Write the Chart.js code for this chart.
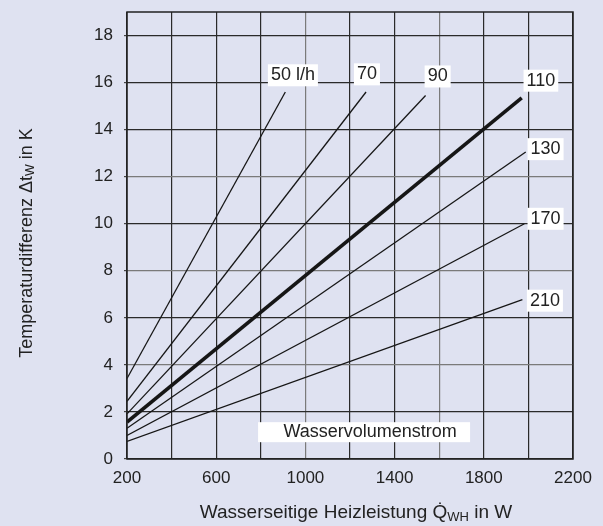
<!DOCTYPE html>
<html>
<head>
<meta charset="utf-8">
<script src="https://cdn.jsdelivr.net/npm/chart.js@4"></script>
<style>
  body { margin: 0; background: #dfe2f1; }
  #graph { display: block; }
</style>
</head>
<body>
<canvas id="graph" width="603" height="526"></canvas>
<script>
// Wasservolumenstrom curves (start at 200 W, end point per line)
const flows = ['50 l/h', '70', '90', '110', '130', '170', '210'];
const startW = [200, 200, 200, 200, 200, 200, 200];
const startK = [3.42, 2.45, 1.92, 1.57, 1.31, 1.0, 0.75];
const endW = [910, 1272, 1539, 1970, 1988, 1982, 1973];
const endK = [15.6, 15.6, 15.45, 15.35, 13.05, 10.0, 6.77];
// where the flow labels sit (W, K)
const labelW = [944, 1276, 1593, 2056, 2077, 2077, 2074];
const labelK = [16.31, 16.35, 16.26, 16.08, 13.17, 10.21, 6.73];
const xTicks = [200, 600, 1000, 1400, 1800, 2200];

const FONT = "'Liberation Sans', Arial, sans-serif";
const greyX = [1000, 1600];
const greyY = [4, 8, 12];

function gridColor(grey) {
    return function(ctx) {
        if (!ctx.tick) return '#2a2a2a';
        return grey.indexOf(ctx.tick.value) >= 0 ? '#7a7a7a' : '#2a2a2a';
    };
}

// text with subscripts, parts = [[text, isSub], ...]
function drawParts(c, parts, x, y, size, subSize) {
    let total = 0;
    parts.forEach(p => {
        c.font = (p[1] ? subSize : size) + 'px ' + FONT;
        total += c.measureText(p[0]).width;
    });
    let cx = x - total / 2;
    parts.forEach(p => {
        c.font = (p[1] ? subSize : size) + 'px ' + FONT;
        c.fillText(p[0], cx, p[1] ? y + 4 : y);
        cx += c.measureText(p[0]).width;
    });
}

const extras = {
    id: 'extras',
    afterDatasetsDraw(chart) {
        const c = chart.ctx;
        const xs = chart.scales.x, ys = chart.scales.y;
        const a = chart.chartArea;
        c.save();
        c.textAlign = 'center';
        c.textBaseline = 'middle';
        c.font = '18px ' + FONT;
        for (let i = 0; i < flows.length; i++) {
            const px = xs.getPixelForValue(labelW[i]);
            const py = ys.getPixelForValue(labelK[i]);
            const w = c.measureText(flows[i]).width;
            c.fillStyle = '#fff';
            c.fillRect(px - w / 2 - 3, py - 11, w + 6, 22);
            c.fillStyle = '#222';
            c.fillText(flows[i], px, py);
        }
        // Wasservolumenstrom box
        const wx = xs.getPixelForValue(1290), wy = ys.getPixelForValue(1.14);
        c.fillStyle = '#fff';
        c.fillRect(wx - 112, wy - 10, 212, 20);
        c.fillStyle = '#222';
        c.fillText('Wasservolumenstrom', wx, wy);

        // frame
        c.strokeStyle = '#222';
        c.lineWidth = 1.5;
        c.strokeRect(a.left, a.top, a.right - a.left, a.bottom - a.top);
        c.restore();
    },
    afterDraw(chart) {
        const c = chart.ctx;
        c.save();
        c.fillStyle = '#222';
        c.textAlign = 'left';
        c.textBaseline = 'middle';
        drawParts(c, [['Wasserseitige Heizleistung Q\u0307', false], ['WH', true], [' in W', false]], 356, 513, 19, 13);
        c.translate(27, 243);
        c.rotate(-Math.PI / 2);
        drawParts(c, [['Temperaturdifferenz \u0394t', false], ['W', true], [' in K', false]], 0, 0, 18, 12.5);
        c.restore();
    }
};

window.onload = function() {
    let datasets = flows.map((f, i) => ({
        label: f,
        data: [{x: startW[i], y: startK[i]}, {x: endW[i], y: endK[i]}],
        borderColor: '#161616',
        borderWidth: f === '110' ? 3.6 : 1.3,
        pointRadius: 0,
        tension: 0
    }));

    new Chart(document.getElementById('graph'), {
        type: 'line',
        data: { datasets: datasets },
        plugins: [extras],
        options: {
            responsive: false,
            animation: false,
            devicePixelRatio: 1,
            layout: { padding: { top: 12, right: 30, left: 0, bottom: 0 } },
            plugins: { legend: { display: false }, tooltip: { enabled: false } },
            scales: {
                x: {
                    type: 'linear',
                    min: 200,
                    max: 2200,
                    ticks: {
                        stepSize: 200,
                        autoSkip: false,
                        maxRotation: 0,
                        padding: 9,
                        color: '#222',
                        font: { family: FONT, size: 17 },
                        callback: v => xTicks.indexOf(v) >= 0 ? String(v) : ''
                    },
                    grid: { color: gridColor(greyX), lineWidth: 1.2, drawTicks: false },
                    border: { display: false },
                    afterFit: s => { s.height = 67; s.paddingLeft = 0; s.paddingRight = 0; }
                },
                y: {
                    min: 0,
                    max: 19,
                    ticks: {
                        stepSize: 2,
                        padding: 11,
                        color: '#222',
                        font: { family: FONT, size: 17 }
                    },
                    afterBuildTicks: s => { s.ticks = s.ticks.filter(t => t.value <= 18); },
                    grid: { color: gridColor(greyY), lineWidth: 1.2, tickLength: 3, tickColor: '#444' },
                    border: { display: false },
                    afterFit: s => { s.width = 127; s.paddingTop = 0; s.paddingBottom = 0; }
                }
            }
        }
    });
};
</script>
</body>
</html>
